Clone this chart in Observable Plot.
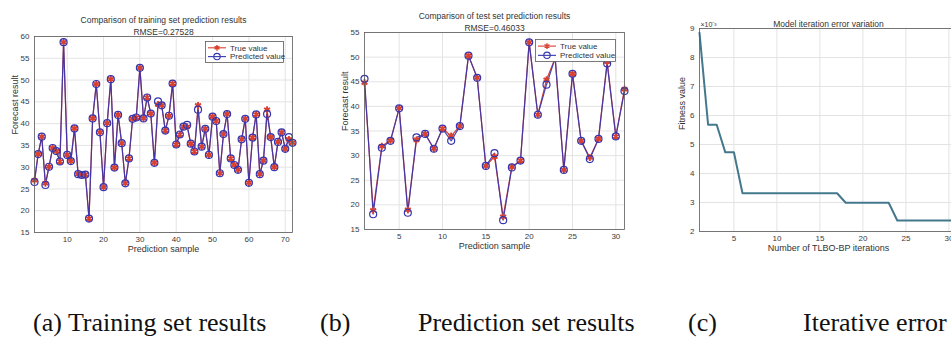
<!DOCTYPE html>
<html><head><meta charset="utf-8">
<script src="https://cdn.jsdelivr.net/npm/d3@7"></script>
<script src="https://cdn.jsdelivr.net/npm/@observablehq/plot@0.6"></script>
<style>
body{margin:0;background:#fff;}
#wrap{position:relative;width:951px;height:338px;overflow:hidden;background:#fff;font-family:"Liberation Sans",Arial,sans-serif;}
.panel{position:absolute;top:0;}
.legend{position:absolute;}
.cap{position:absolute;top:310px;font-family:"Liberation Serif","Times New Roman",serif;font-size:26px;line-height:26px;color:#111;white-space:nowrap;}
</style>
</head><body>
<div id="wrap"></div>
<script>
// ---- data ----
const trueA = [27.0,33.0,37.0,26.3,30.1,34.4,33.7,31.3,58.7,32.8,31.4,38.9,28.4,28.2,28.3,18.2,41.2,49.1,38.0,25.4,40.1,50.2,29.9,42.0,35.5,26.3,32.0,41.1,41.4,52.8,41.2,46.0,42.3,31.0,44.4,44.2,38.4,41.8,49.2,35.2,37.5,39.3,39.3,35.4,33.6,44.2,34.7,38.8,32.8,41.6,40.6,28.6,37.6,42.2,32.0,30.5,29.4,36.4,41.1,26.4,36.8,42.1,28.4,31.5,43.2,36.9,30.0,35.8,38.0,34.2,36.4,35.6];
const predA = [26.6,33.0,37.0,25.9,30.1,34.4,33.7,31.3,58.7,32.8,31.4,38.9,28.4,28.2,28.3,18.2,41.2,49.1,38.0,25.4,40.1,50.2,29.9,42.0,35.5,26.3,32.0,41.1,41.4,52.8,41.2,46.0,42.3,31.0,45.1,44.2,38.4,41.8,49.2,35.2,37.5,39.3,39.7,35.4,33.6,43.2,34.7,38.8,32.8,41.6,40.6,28.6,37.6,42.2,32.0,30.5,29.4,36.4,41.1,26.4,36.8,42.1,28.4,31.5,42.2,36.9,30.0,35.8,38.0,34.2,36.9,35.6];
const trueB = [44.8,18.9,31.9,33.1,39.6,19.0,33.2,34.4,31.4,35.5,34.0,36.0,50.3,45.8,27.9,29.8,17.6,27.7,29.0,53.0,38.3,45.4,49.8,27.1,46.6,33.0,29.6,33.4,49.1,33.9,43.5];
const predB = [45.6,18.1,31.6,33.0,39.6,18.4,33.7,34.4,31.4,35.5,33.0,36.0,50.3,45.8,27.9,30.5,16.9,27.6,29.0,53.0,38.3,44.4,49.8,27.1,46.6,33.0,29.3,33.4,48.7,33.9,43.1];
const fitnessC = [8.85,5.68,5.68,4.73,4.73,3.32,3.32,3.32,3.32,3.32,3.32,3.32,3.32,3.32,3.32,3.32,3.32,2.99,2.99,2.99,2.99,2.99,2.99,2.38,2.38,2.38,2.38,2.38,2.38,2.38,2.38];

const xTicksA = [10,20,30,40,50,60,70];
const yTicksA = [15,20,25,30,35,40,45,50,55,60];
const xTicksB = [5,10,15,20,25,30];
const yTicksB = [15,20,25,30,35,40,45,50,55];
const xTicksC = [5,10,15,20,25,30];
const yTicksC = [2,3,4,5,6,7,8,9];

const titlesA = ["Comparison of training set prediction results","RMSE=0.27528"];
const titlesB = ["Comparison of test set prediction results","RMSE=0.46033"];
const titleC = "Model iteration error variation";
const xLabelAB = "Prediction sample";
const yLabelAB = "Forecast result";
const xLabelC = "Number of TLBO-BP iterations";
const yLabelC = "Fitness value";
const expC = "×10⁻³";
const legendLabels = ["True value","Predicted value"];
const captions = [
  {text:"(a) Training set results", left:33},
  {text:"(b)", left:320},
  {text:"Prediction set results", left:418},
  {text:"(c)", left:688},
  {text:"Iterative error", left:803}
];

const RED = "#d8402f", BLUE = "#3535b0", LINEC = "#44788c";
const FRAME = "#5a5a5a", GRID = "#e3e3e3", TXT = "#3a3a3a";

const wrap = document.getElementById("wrap");

function comparePanel({trueV, predV, xDomain, yDomain, xTicks, yTicks, titles, width, height, margins}) {
  const T = trueV.map((v,i)=>({x:i+1, y:v}));
  const P = predV.map((v,i)=>({x:i+1, y:v}));
  return Plot.plot({
    width, height, ...margins,
    style:{fontFamily:"Liberation Sans, Arial, sans-serif", color:TXT, background:"transparent"},
    x:{domain:xDomain}, y:{domain:yDomain},
    marks:[
      Plot.gridX(xTicks,{stroke:GRID, strokeOpacity:1}),
      Plot.gridY(yTicks,{stroke:GRID, strokeOpacity:1}),
      Plot.line(T,{x:"x", y:"y", stroke:RED, strokeWidth:1.2}),
      Plot.line(P,{x:"x", y:"y", stroke:BLUE, strokeWidth:1.2, strokeOpacity:0.9}),
      Plot.dot(T,{x:"x", y:"y", symbol:"asterisk", stroke:RED, strokeWidth:1.9, r:3.2}),
      Plot.dot(P,{x:"x", y:"y", symbol:"circle", stroke:BLUE, fill:"none", strokeWidth:1.2, r:3.5}),
      Plot.frame({stroke:FRAME, strokeWidth:0.8}),
      Plot.axisX(xTicks,{tickSize:0, tickPadding:4, fontSize:8, label:null, fill:TXT}),
      Plot.axisY(yTicks,{tickSize:0, tickPadding:5, fontSize:8, label:null, fill:TXT}),
      Plot.text([titles[0]],{text:d=>d, frameAnchor:"top", dy:-20, fontSize:8.5, fill:"#333"}),
      Plot.text([titles[1]],{text:d=>d, frameAnchor:"top", dy:-8, fontSize:8.5, fill:"#333"}),
      Plot.text([xLabelAB],{text:d=>d, frameAnchor:"bottom", dy:19, fontSize:9, fill:"#333"}),
      Plot.text([yLabelAB],{text:d=>d, frameAnchor:"left", rotate:-90, dx:-19, fontSize:9, fill:"#333"})
    ]
  });
}

function addLegend(left, top, w, h) {
  const svg = d3.create("svg").attr("class","legend").attr("width",w+2).attr("height",h+2)
    .style("left",left+"px").style("top",top+"px");
  svg.append("rect").attr("x",0.5).attr("y",0.5).attr("width",w).attr("height",h)
    .attr("fill","#fff").attr("stroke",FRAME).attr("stroke-width",0.8);
  const cols = [RED, BLUE];
  legendLabels.forEach((lab,i)=>{
    const cy = h*(0.3 + 0.42*i) + 0.5;
    svg.append("line").attr("x1",3).attr("x2",21).attr("y1",cy).attr("y2",cy)
      .attr("stroke",cols[i]).attr("stroke-width",1.1);
    if (i===0) {
      svg.append("path").attr("d", d3.symbol(d3.symbolAsterisk, 22)()).attr("transform",`translate(12,${cy})`)
        .attr("stroke",RED).attr("stroke-width",1.4).attr("fill","none");
    } else {
      svg.append("circle").attr("cx",12).attr("cy",cy).attr("r",3.2).attr("stroke",BLUE).attr("fill","none").attr("stroke-width",1.1);
    }
    svg.append("text").attr("x",25).attr("y",cy).attr("dy","0.35em").attr("font-size",8)
      .attr("font-family","Liberation Sans, Arial, sans-serif").attr("fill","#333").text(lab);
  });
  wrap.appendChild(svg.node());
}

// Panel (a)
const pa = comparePanel({trueV:trueA, predV:predA, xDomain:[1,72], yDomain:[15,60], xTicks:xTicksA, yTicks:yTicksA, titles:titlesA,
  width:300, height:260, margins:{marginLeft:34, marginRight:8, marginTop:36, marginBottom:28}});
pa.classList.add("panel"); pa.style.left = "0px";
wrap.appendChild(pa);
addLegend(205, 41, 78, 21);

// Panel (b)
const pb = comparePanel({trueV:trueB, predV:predB, xDomain:[1,31], yDomain:[15,55], xTicks:xTicksB, yTicks:yTicksB, titles:titlesB,
  width:310, height:260, margins:{marginLeft:44, marginRight:6, marginTop:32, marginBottom:31}});
pb.classList.add("panel"); pb.style.left = "320px";
wrap.appendChild(pb);
addLegend(535, 39, 80, 22);

// Panel (c)
const C = fitnessC.map((v,i)=>({x:i+1, y:v}));
const pc = Plot.plot({
  width:330, height:260, marginLeft:59, marginRight:13, marginTop:28, marginBottom:29,
  style:{fontFamily:"Liberation Sans, Arial, sans-serif", color:TXT, background:"transparent"},
  x:{domain:[1,31]}, y:{domain:[2,9]},
  marks:[
    Plot.gridX(xTicksC,{stroke:GRID, strokeOpacity:1}),
    Plot.gridY(yTicksC,{stroke:GRID, strokeOpacity:1}),
    Plot.line(C,{x:"x", y:"y", stroke:LINEC, strokeWidth:2}),
    Plot.frame({stroke:FRAME, strokeWidth:0.8}),
    Plot.axisX(xTicksC,{tickSize:0, tickPadding:4, fontSize:8, label:null, fill:TXT}),
    Plot.axisY(yTicksC,{tickSize:0, tickPadding:5, fontSize:8, label:null, fill:TXT}),
    Plot.text([expC],{text:d=>d, frameAnchor:"top-left", dy:-6, dx:1, textAnchor:"start", fontSize:7, fill:"#333"}),
    Plot.text([titleC],{text:d=>d, frameAnchor:"top", dy:-8, fontSize:8.5, fill:"#333"}),
    Plot.text([xLabelC],{text:d=>d, frameAnchor:"bottom", dy:19, fontSize:9, fill:"#333"}),
    Plot.text([yLabelC],{text:d=>d, frameAnchor:"left", rotate:-90, dx:-17, fontSize:9, fill:"#333"})
  ]
});
pc.classList.add("panel"); pc.style.left = "640px";
wrap.appendChild(pc);

// Captions
captions.forEach(c=>{
  const d = document.createElement("div");
  d.className = "cap"; d.style.left = c.left+"px"; d.textContent = c.text;
  wrap.appendChild(d);
});
</script>
</body></html>
